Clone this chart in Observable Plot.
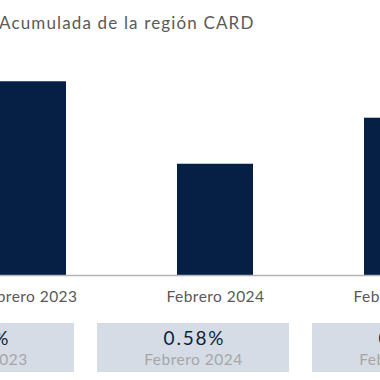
<!DOCTYPE html>
<html><head><meta charset="utf-8">
<script src="https://cdn.jsdelivr.net/npm/d3@7"></script>
<script src="https://cdn.jsdelivr.net/npm/@observablehq/plot@0.6"></script>
<style>
html,body{margin:0;padding:0;background:#fff;overflow:hidden;}
#wrap{position:relative;width:380px;height:380px;overflow:hidden;font-family:Lato,sans-serif;}
#title{position:absolute;left:-1px;top:12px;font-size:17px;color:#595959;white-space:nowrap;letter-spacing:1.15px;}
#bars{position:absolute;left:0;top:60px;}
#cards{position:absolute;left:0;top:323px;}
svg{overflow:hidden;}
g.val text{letter-spacing:1.8px;}
g.lab text{letter-spacing:0.5px;}
</style></head><body>
<div id="wrap"><div id="title">Acumulada de la región CARD</div><div id="bars"></div><div id="cards"></div></div>
<script>
const categories = ["Febrero 2023", "Febrero 2024", "Febrero 2025"];
const values = [1.01, 0.58, 0.82];
const valueLabels = ["1.01%", "0.58%", "0.82%"];

const data = categories.map((c, i) => ({cat: c, v: values[i], lab: valueLabels[i]}));

const bars = Plot.plot({
  width: 380, height: 252,
  marginLeft: 0, marginRight: 0, marginTop: 4, marginBottom: 37,
  style: {fontFamily: "Lato, sans-serif", background: "transparent", overflow: "hidden", letterSpacing: "0.45px"},
  x: {domain: categories, range: [-65.5, 495.5], paddingInner: 0.594, paddingOuter: 0.297, align: 0.5, label: null},
  y: {domain: [0, 1.1], axis: null},
  marks: [
    Plot.barY(data, {x: "cat", y: "v", fill: "#061f45"}),
    Plot.ruleY([0], {stroke: "#b4b4b4", strokeWidth: 1.5}),
    Plot.axisX({tickSize: 0, tickPadding: 15, fontSize: 15.5, color: "#595959", label: null})
  ]
});
document.getElementById("bars").appendChild(bars);

const cards = Plot.plot({
  width: 380, height: 49,
  margin: 0,
  style: {fontFamily: "Lato, sans-serif", background: "transparent", overflow: "hidden"},
  x: {domain: categories, range: [-130, 515], paddingInner: 0.109, paddingOuter: 0.0545, align: 0.5, axis: null},
  marks: [
    Plot.cell(data, {x: "cat", fill: "#d6dce5"}),
    Plot.text(data, {x: "cat", text: "lab", frameAnchor: "top", lineAnchor: "middle", dy: 15, dx: 1, fontSize: 19, fill: "#0e1f3d", className: "val"}),
    Plot.text(data, {x: "cat", text: "cat", frameAnchor: "top", lineAnchor: "middle", dy: 37, fontSize: 15.5, fill: "#a6a6a6", className: "lab"})
  ]
});
document.getElementById("cards").appendChild(cards);
</script>
</body></html>
